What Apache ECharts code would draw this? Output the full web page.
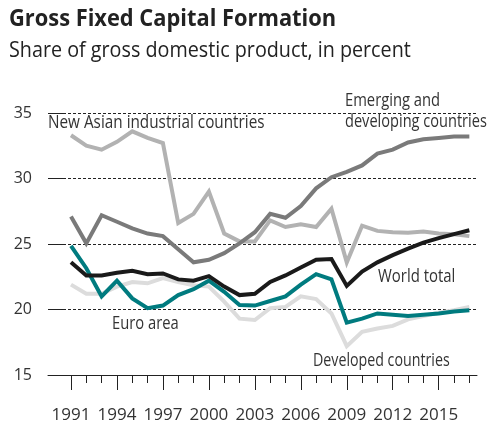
<!DOCTYPE html>
<html>
<head>
<meta charset="utf-8">
<script src="https://cdn.jsdelivr.net/npm/echarts@6/dist/echarts.min.js"></script>
<style>
  html, body { margin: 0; padding: 0; background: #fff; }
  #chart { width: 489px; height: 426px; }
</style>
</head>
<body>
<div id="chart"></div>
<script>
// years 1991..2017
var years = [1991, 1992, 1993, 1994, 1995, 1996, 1997, 1998, 1999, 2000,
  2001, 2002, 2003, 2004, 2005, 2006, 2007, 2008, 2009, 2010,
  2011, 2012, 2013, 2014, 2015, 2016, 2017];
var yearLabels = [1991, 1994, 1997, 2000, 2003, 2006, 2009, 2012, 2015];
var yTicks = [15, 20, 25, 30, 35];

var newAsian = [33.3, 32.5, 32.2, 32.8, 33.6, 33.1, 32.7, 26.6, 27.3, 29.0,
  25.8, 25.2, 25.2, 26.8, 26.3, 26.5, 26.3, 27.7, 23.6, 26.4,
  26.0, 25.9, 25.85, 25.95, 25.8, 25.75, 25.6];
var emerging = [27.1, 25.05, 27.2, 26.7, 26.2, 25.8, 25.6, 24.6, 23.6, 23.8,
  24.3, 25.05, 25.9, 27.3, 27.0, 27.9, 29.25, 30.1, 30.5, 31.0,
  31.9, 32.2, 32.75, 33.0, 33.1, 33.2, 33.2];
var world = [23.6, 22.6, 22.6, 22.8, 22.95, 22.7, 22.75, 22.3, 22.2, 22.55,
  21.75, 21.1, 21.2, 22.1, 22.6, 23.2, 23.8, 23.85, 21.8, 22.9,
  23.6, 24.15, 24.65, 25.1, 25.45, 25.75, 26.05];
var euro = [24.85, 23.15, 21.0, 22.2, 20.85, 20.1, 20.3, 21.1, 21.55, 22.2,
  21.35, 20.35, 20.3, 20.65, 21.0, 21.9, 22.7, 22.3, 19.0, 19.3,
  19.7, 19.6, 19.5, 19.6, 19.7, 19.85, 19.95];
var developed = [21.9, 21.2, 21.2, 21.75, 22.1, 22.0, 22.4, 22.1, 21.85, 21.75,
  20.6, 19.3, 19.2, 20.1, 20.2, 21.0, 20.8, 19.7, 17.2, 18.3,
  18.55, 18.75, 19.25, 19.5, 19.75, 19.95, 20.2];

function pairs(vals) {
  return years.map(function (y, i) { return [y, vals[i]]; });
}

var font = '"Open Sans", sans-serif';
var textColor = '#333';

var chart = echarts.init(document.getElementById('chart'));

function line(name, vals, color, z) {
  return {
    name: name,
    type: 'line',
    data: pairs(vals),
    symbol: 'none',
    z: z,
    lineStyle: { color: color, width: 4, join: 'miter' }
  };
}

// condensed-looking text: normal font squeezed horizontally
function label(text, x, y, size, sx, weight, color) {
  return {
    type: 'text',
    x: x,
    y: y,
    scaleX: sx,
    z: 100,
    style: {
      text: text,
      font: (weight || 'normal') + ' ' + size + 'px ' + font,
      fill: color || textColor,
      align: 'left',
      verticalAlign: 'middle'
    }
  };
}

chart.setOption({
  animation: false,
  grid: { left: 48, right: 12, top: 113, bottom: 51 },
  xAxis: [{
    type: 'value',
    min: 1989.5,
    max: 2017.5,
    splitLine: { show: false },
    axisLine: { lineStyle: { color: '#222', width: 1 } },
    axisTick: { customValues: years, length: 8, lineStyle: { color: '#222' } },
    axisLabel: {
      customValues: yearLabels,
      margin: 32,
      fontFamily: font, fontSize: 17, color: textColor,
      formatter: function (v) { return String(v); }
    }
  }, {
    type: 'value',
    min: 1989.5,
    max: 2017.5,
    position: 'bottom',
    splitLine: { show: false },
    axisLine: { show: false },
    axisTick: { customValues: yearLabels, length: 15, lineStyle: { color: '#222' } },
    axisLabel: { show: false }
  }],
  yAxis: {
    type: 'value',
    min: 15,
    max: 35,
    interval: 5,
    axisLine: { show: false },
    axisTick: { show: true, inside: true, length: 16, lineStyle: { color: '#222' } },
    splitLine: { lineStyle: { color: '#222', type: [3, 2], width: 1 } },
    axisLabel: {
      customValues: yTicks,
      margin: 16,
      fontFamily: font, fontSize: 16, color: textColor
    }
  },
  series: [
    line('Developed countries', developed, '#dcdcdc', 2),
    line('New Asian industrial countries', newAsian, '#b2b2b2', 3),
    line('Emerging and developing countries', emerging, '#7a7a7a', 4),
    line('Euro area', euro, '#007b7f', 5),
    line('World total', world, '#1a1a1a', 6)
  ],
  graphic: [
    label('Gross Fixed Capital Formation', 9, 19, 23, 0.95, 'bold', '#222'),
    label('Share of gross domestic product, in percent', 9, 51, 21, 0.94, 'normal', '#222'),
    label('Emerging and', 345, 101, 18, 0.82),
    label('developing countries', 345, 122, 18, 0.81),
    label('New Asian industrial countries', 48, 122.5, 18, 0.85),
    label('World total', 378, 276.5, 18, 0.83),
    label('Euro area', 112, 324, 18, 0.82),
    label('Developed countries', 313, 361, 18, 0.79)
  ]
});
</script>
</body>
</html>
